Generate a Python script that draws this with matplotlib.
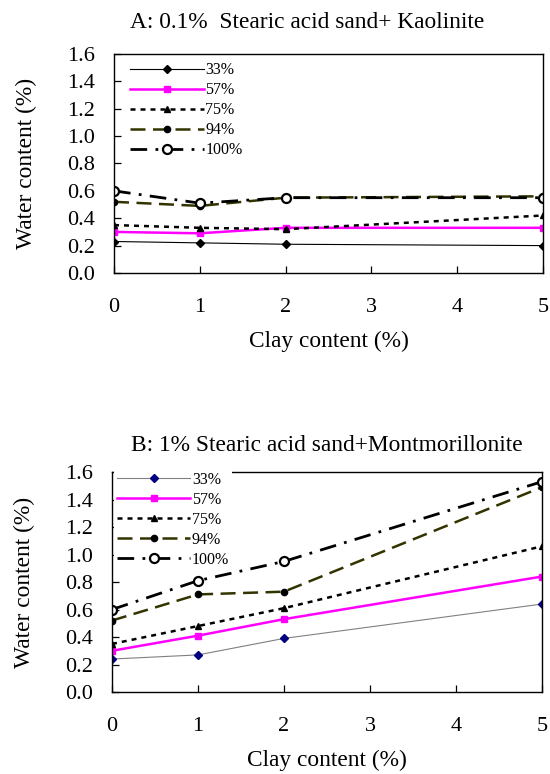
import matplotlib
matplotlib.use("Agg")
import matplotlib.pyplot as plt
from matplotlib.ticker import FormatStrFormatter

plt.rcParams['font.family'] = ['Liberation Serif', 'DejaVu Serif']

clay = [0, 1, 2, 5]
labels = ['33%', '57%', '75%', '94%', '100%']

# panel A: 0.1% stearic acid sand + kaolinite
a_33 = [0.23, 0.22, 0.21, 0.20]
a_57 = [0.30, 0.29, 0.33, 0.33]
a_75 = [0.35, 0.33, 0.32, 0.42]
a_94 = [0.52, 0.49, 0.55, 0.56]
a_100 = [0.60, 0.51, 0.55, 0.55]

# panel B: 1% stearic acid sand + montmorillonite
b_33 = [0.24, 0.27, 0.39, 0.64]
b_57 = [0.30, 0.41, 0.53, 0.84]
b_75 = [0.35, 0.48, 0.61, 1.06]
b_94 = [0.52, 0.71, 0.73, 1.49]
b_100 = [0.60, 0.81, 0.95, 1.53]

yticks = [0.0, 0.2, 0.4, 0.6, 0.8, 1.0, 1.2, 1.4, 1.6]
xticks = [0, 1, 2, 3, 4, 5]


def draw(ax, series, c33_line, c33_mark):
    s33, s57, s75, s94, s100 = series
    ax.plot(clay, s33, color=c33_line, lw=0.8, marker='D', ms=3.8,
            mfc=c33_mark, mec=c33_mark, label=labels[0])
    ax.plot(clay, s57, color='#FF00FF', lw=1.8, marker='s', ms=4.5,
            mfc='#FF00FF', mec='#FF00FF', label=labels[1])
    ax.plot(clay, s75, color='black', lw=1.8, ls=(0, (2, 2)), marker='^', ms=5,
            mfc='black', mec='black', label=labels[2])
    ax.plot(clay, s94, color='#333300', lw=1.8, ls=(0, (6, 3)), marker='o', ms=4.5,
            mfc='black', mec='black', label=labels[3])
    ax.plot(clay, s100, color='black', lw=2.0, ls=(0, (6, 3, 1, 3)), marker='o', ms=6.5,
            mfc='white', mec='black', mew=1.6, label=labels[4])

    ax.set_xlim(0, 5)
    ax.set_ylim(0, 1.6)
    ax.set_xticks(xticks)
    ax.set_yticks(yticks)
    ax.yaxis.set_major_formatter(FormatStrFormatter('%.1f'))
    ax.tick_params(axis='x', direction='in', length=5, width=0.9, pad=18, labelsize=16)
    ax.tick_params(axis='y', direction='in', length=5, width=0.9, pad=14, labelsize=16)
    for sp in ax.spines.values():
        sp.set_linewidth(1.0)
        sp.set_color('black')
    ax.set_xlabel('Clay content (%)', fontsize=16.8, labelpad=10)
    ax.set_ylabel('Water content (%)', fontsize=16.8)


fig = plt.figure(figsize=(5.5, 7.74), dpi=100)

ax1 = fig.add_axes([0.2073, 0.6473, 0.780, 0.283])
draw(ax1, [a_33, a_57, a_75, a_94, a_100], 'black', 'black')
ax1.set_title('A: 0.1%  Stearic acid sand+ Kaolinite', fontsize=16.8, pad=19, x=0.451)
ax1.yaxis.set_label_coords(-0.18, 0.5)
leg1 = ax1.legend(loc='upper left', bbox_to_anchor=(0.03, 0.976), fontsize=11.5,
                  handlelength=4.6, handletextpad=0.1, labelspacing=0.25,
                  borderpad=0.2, borderaxespad=0, numpoints=1,
                  frameon=True, fancybox=False, facecolor='white', edgecolor='none',
                  framealpha=1)

ax2 = fig.add_axes([0.2036, 0.1059, 0.7818, 0.2842])
draw(ax2, [b_33, b_57, b_75, b_94, b_100], '#808080', '#000080')
ax2.set_title('B: 1% Stearic acid sand+Montmorillonite', fontsize=16.8, pad=15)
ax2.yaxis.set_label_coords(-0.18, 0.5)
leg2 = ax2.legend(loc='upper left', bbox_to_anchor=(0.004, 1.016), fontsize=11.5,
                  handlelength=4.6, handletextpad=0.1, labelspacing=0.25,
                  borderpad=0.2, borderaxespad=0, numpoints=1,
                  frameon=True, fancybox=False, facecolor='white', edgecolor='none',
                  framealpha=1)

fig.savefig('out.png', dpi=100)
